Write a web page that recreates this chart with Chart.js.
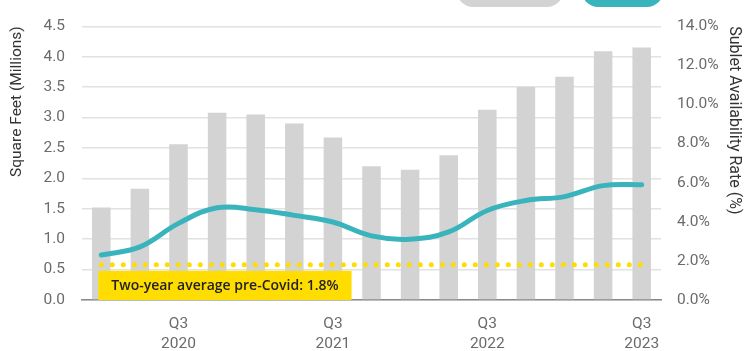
<!DOCTYPE html>
<html>
<head>
<meta charset="utf-8">
<script src="https://cdn.jsdelivr.net/npm/chart.js@4"></script>
<style>
  html, body { margin: 0; padding: 0; background: #fff; overflow: hidden; }
  #wrap { position: relative; width: 745px; height: 351px; }
  .pill { position: absolute; top: -25px; height: 32px; border-radius: 16px; }
</style>
</head>
<body>
<div id="wrap">
  <canvas id="myChart"></canvas>
  <div class="pill" style="left:457px; width:106px; background:#d3d3d3;"></div>
  <div class="pill" style="left:582px; width:81px; background:#3ab4bc;"></div>
</div>
<script>
// quarters Q1 2020 .. Q3 2023
const quarters = [
  'Q1 2020', 'Q2 2020', 'Q3 2020', 'Q4 2020',
  'Q1 2021', 'Q2 2021', 'Q3 2021', 'Q4 2021',
  'Q1 2022', 'Q2 2022', 'Q3 2022', 'Q4 2022',
  'Q1 2023', 'Q2 2023', 'Q3 2023'
];
// sublet space, millions of sq ft
const subletSqFt = [1.52, 1.83, 2.56, 3.08, 3.05, 2.90, 2.67, 2.20, 2.14, 2.38, 3.13, 3.50, 3.67, 4.09, 4.15];
// sublet availability rate, %
const availRate = [2.3, 2.72, 3.92, 4.72, 4.62, 4.33, 3.99, 3.28, 3.11, 3.48, 4.58, 5.09, 5.29, 5.85, 5.9];
const preCovidAvg = 1.8;
const avgLabel = 'Two-year average pre-Covid: 1.8%';

const tickFont = { family: 'Roboto', size: 15.5 };
const tickColor = '#6b6b6b';

// dotted pre-covid average line + yellow label box
const avgPlugin = {
  id: 'avgLine',
  afterDatasetsDraw(chart) {
    const ctx = chart.ctx;
    const x = chart.scales.x, y1 = chart.scales.y1, y = chart.scales.y;
    const yPix = y1.getPixelForValue(preCovidAvg);
    ctx.save();
    ctx.strokeStyle = '#ffdd00';
    ctx.lineWidth = 5;
    ctx.lineCap = 'round';
    ctx.setLineDash([0, 11]);
    ctx.beginPath();
    ctx.moveTo(x.getPixelForValue(0), yPix);
    ctx.lineTo(x.getPixelForValue(quarters.length - 1), yPix);
    ctx.stroke();
    ctx.setLineDash([]);

    ctx.font = '600 14px "Open Sans"';
    const tw = ctx.measureText(avgLabel).width;
    const bx = x.getPixelForValue(0) - 3;
    const by = yPix + 6;
    const bw = tw + 26;
    const bh = y.getPixelForValue(0) - by;
    ctx.fillStyle = '#ffdd00';
    ctx.fillRect(bx, by, bw, bh);
    ctx.fillStyle = '#222';
    ctx.textAlign = 'center';
    ctx.textBaseline = 'middle';
    ctx.fillText(avgLabel, bx + bw / 2, by + bh / 2 + 1);
    ctx.restore();
  }
};

new Chart(document.getElementById('myChart'), {
  data: {
    labels: quarters,
    datasets: [
      {
        type: 'line',
        label: 'Sublet Availability Rate',
        data: availRate,
        yAxisID: 'y1',
        borderColor: '#3ab4bc',
        borderWidth: 5,
        borderCapStyle: 'round',
        pointRadius: 0,
        tension: 0.4,
        order: 0
      },
      {
        type: 'bar',
        label: 'Sublet Space',
        data: subletSqFt,
        yAxisID: 'y',
        backgroundColor: '#d3d3d3',
        barPercentage: 0.48,
        categoryPercentage: 1,
        order: 1
      }
    ]
  },
  options: {
    responsive: true,
    maintainAspectRatio: false,
    animation: false,
    layout: { padding: { top: 18 } },
    plugins: {
      legend: { display: false },
      tooltip: { enabled: false }
    },
    scales: {
      x: {
        grid: { display: false, drawTicks: false },
        border: { color: '#8a8a8a', width: 1.5 },
        ticks: {
          autoSkip: false,
          maxRotation: 0,
          padding: 14,
          color: tickColor,
          font: { ...tickFont, lineHeight: 1.3 },
          callback: function (v) {
            const q = quarters[v].split(' ');
            return q[0] == 'Q3' ? q : '';
          }
        },
        afterFit: (s) => { s.height = 51; }
      },
      y: {
        position: 'left',
        min: 0, max: 4.5,
        ticks: {
          stepSize: 0.5,
          padding: 17,
          color: tickColor,
          font: tickFont,
          callback: (v) => v.toFixed(1)
        },
        grid: { color: '#e2e2e2', lineWidth: 1.5, drawTicks: false },
        border: { display: false },
        title: {
          display: true,
          text: 'Square Feet (Millions)',
          align: 'end',
          color: '#333',
          font: { family: 'Roboto', size: 15.5 },
          padding: { top: 8, bottom: 0 }
        },
        afterFit: (s) => { s.width = 82; }
      },
      y1: {
        position: 'right',
        min: 0, max: 14,
        ticks: {
          stepSize: 2,
          padding: 16,
          color: tickColor,
          font: tickFont,
          callback: (v) => v.toFixed(1) + '%'
        },
        grid: { display: false, drawTicks: false },
        border: { display: false },
        title: {
          display: true,
          text: 'Sublet Availability Rate (%)',
          align: 'end',
          color: '#333',
          font: { family: 'Roboto', size: 16 },
          padding: { top: 1, bottom: 0 }
        },
        afterFit: (s) => { s.width = 84; }
      }
    }
  },
  plugins: [avgPlugin]
});
</script>
</body>
</html>
